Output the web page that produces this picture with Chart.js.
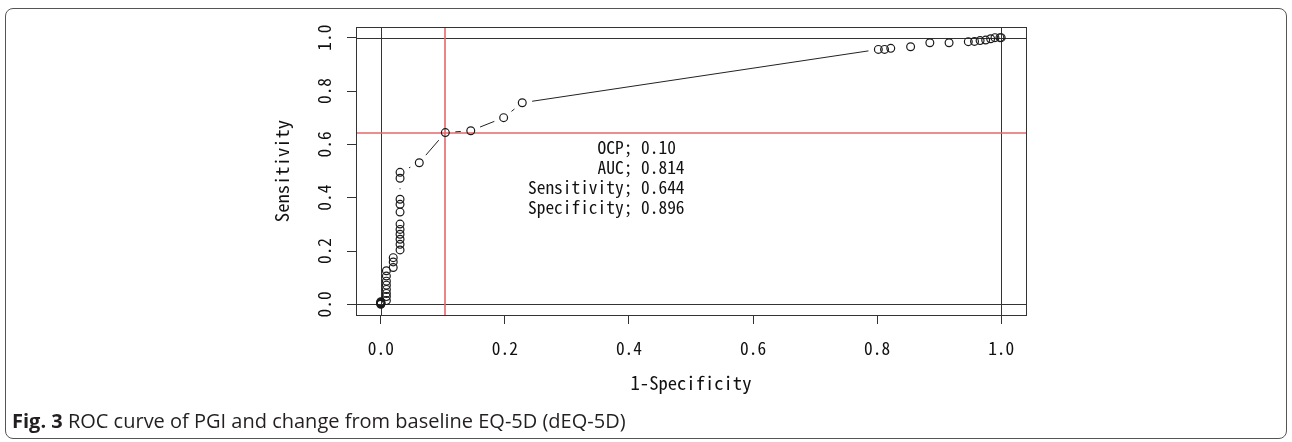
<!DOCTYPE html>
<html>
<head>
<meta charset="utf-8">
<script src="https://cdn.jsdelivr.net/npm/chart.js@4.4.0/dist/chart.umd.min.js"></script>
<style>
  html, body { margin: 0; padding: 0; background: #fff; }
  #wrap { position: relative; width: 1292px; height: 442px; overflow: hidden; background: #fff; }
  #roc { position: absolute; left: 0; top: 0; }
  #frame { position: absolute; left: 5px; top: 8px; width: 1282px; height: 431px; border: 1px solid #555; border-radius: 8px; box-sizing: border-box; }
  #caption { position: absolute; left: 12px; top: 409px; font-family: 'Open Sans', sans-serif; font-size: 20px; line-height: 24px; color: #231f20; white-space: nowrap; }
</style>
</head>
<body>
<div id="wrap">
  <canvas id="roc" width="1292" height="442"></canvas>
  <div id="frame"></div>
  <div id="caption"><b>Fig. 3</b> ROC curve of PGI and change from baseline EQ-5D (dEQ-5D)</div>
</div>
<script>
// ROC points (1-specificity, sensitivity)
const fpr = [0, 0, 0, 0, 0, 0,
  0.009, 0.009, 0.009, 0.009, 0.009, 0.009, 0.009, 0.009,
  0.020, 0.020, 0.020,
  0.031, 0.031, 0.031, 0.031, 0.031, 0.031, 0.031, 0.031, 0.031, 0.031, 0.031,
  0.062, 0.104, 0.145, 0.198, 0.228,
  0.802, 0.812, 0.822, 0.854, 0.885, 0.916, 0.947, 0.957, 0.966, 0.975, 0.983, 0.990, 0.998, 1.0];
const sens = [0, 0.002, 0.004, 0.006, 0.008, 0.010,
  0.014, 0.029, 0.041, 0.056, 0.072, 0.087, 0.106, 0.126,
  0.138, 0.159, 0.175,
  0.204, 0.225, 0.244, 0.263, 0.281, 0.301, 0.346, 0.375, 0.394, 0.473, 0.495,
  0.531, 0.644, 0.651, 0.700, 0.756,
  0.956, 0.956, 0.960, 0.966, 0.981, 0.981, 0.985, 0.986, 0.989, 0.991, 0.996, 1.0, 1.0, 1.0];

const xTicks = [0, 0.2, 0.4, 0.6, 0.8, 1.0];
const yTicks = [0, 0.2, 0.4, 0.6, 0.8, 1.0];
const refLines = [0, 1];
const cutFpr = 0.104;     // 1 - specificity at the optimal cut point
const cutSens = 0.644;
const statLines = [
  '        OCP; 0.10',
  '        AUC; 0.814',
  'Sensitivity; 0.644',
  'Specificity; 0.896'
];

// pick a size so the mono font has ~8.7px per character
const monoFamily = "'Noto Sans Mono CJK KR', 'DejaVu Sans Mono', monospace";
const probe = document.createElement('canvas').getContext('2d');
probe.font = "100px " + monoFamily;
const emRatio = probe.measureText('0000000000').width / 1000;
const tickSize = 8.7 / emRatio;
const titleSize = 9.3 / emRatio;

const monoFont = { family: monoFamily, size: tickSize };

// segments between points with a gap around each marker, like R type="b"
const gapLines = {
  id: 'gapLines',
  beforeDatasetsDraw(chart) {
    const { ctx, chartArea: a, scales: { x, y } } = chart;
    ctx.save();
    ctx.beginPath();
    ctx.rect(a.left, a.top, a.right - a.left, a.bottom - a.top);
    ctx.clip();
    ctx.lineWidth = 1;
    // reference lines at 0 and 1
    ctx.strokeStyle = '#333333';
    refLines.forEach(v => {
      const px = Math.round(x.getPixelForValue(v)) + 0.5;
      const py = Math.round(y.getPixelForValue(v)) + 0.5;
      ctx.beginPath(); ctx.moveTo(px, a.top); ctx.lineTo(px, a.bottom); ctx.stroke();
      ctx.beginPath(); ctx.moveTo(a.left, py); ctx.lineTo(a.right, py); ctx.stroke();
    });
    // cut point lines
    ctx.strokeStyle = '#e4676a';
    ctx.lineWidth = 1.6;
    const cx = Math.round(x.getPixelForValue(cutFpr));
    const cy = Math.round(y.getPixelForValue(cutSens));
    ctx.beginPath(); ctx.moveTo(cx, a.top); ctx.lineTo(cx, a.bottom); ctx.stroke();
    ctx.beginPath(); ctx.moveTo(a.left, cy); ctx.lineTo(a.right, cy); ctx.stroke();

    // curve
    ctx.strokeStyle = '#222222';
    ctx.lineWidth = 1;
    const gap = 10;
    for (let i = 1; i < fpr.length; i++) {
      const x0 = x.getPixelForValue(fpr[i - 1]), y0 = y.getPixelForValue(sens[i - 1]);
      const x1 = x.getPixelForValue(fpr[i]), y1 = y.getPixelForValue(sens[i]);
      const d = Math.hypot(x1 - x0, y1 - y0);
      if (d <= 2 * gap) continue;
      const ux = (x1 - x0) / d, uy = (y1 - y0) / d;
      ctx.beginPath();
      ctx.moveTo(x0 + ux * gap, y0 + uy * gap);
      ctx.lineTo(x1 - ux * gap, y1 - uy * gap);
      ctx.stroke();
    }
    ctx.restore();
  },
  afterDraw(chart) {
    const { ctx, chartArea: a } = chart;
    ctx.save();
    // plot box
    ctx.strokeStyle = '#333333';
    ctx.lineWidth = 1;
    ctx.strokeRect(Math.round(a.left) + 0.5, Math.round(a.top) + 0.5, Math.round(a.right - a.left), Math.round(a.bottom - a.top));

    ctx.fillStyle = '#111111';
    // axis titles
    ctx.font = titleSize + 'px ' + monoFamily;
    ctx.textAlign = 'center';
    ctx.textBaseline = 'middle';
    ctx.fillText('1-Specificity', (a.left + a.right) / 2, 383);
    ctx.translate(282, (a.top + a.bottom) / 2);
    ctx.rotate(-Math.PI / 2);
    ctx.fillText('Sensitivity', 0, 0);
    ctx.setTransform(1, 0, 0, 1, 0, 0);

    // stats text
    ctx.font = tickSize + 'px ' + monoFamily;
    ctx.textAlign = 'left';
    statLines.forEach((s, i) => {
      ctx.fillText(s, 528, 147 + i * 20);
    });
    ctx.restore();
  }
};

new Chart(document.getElementById('roc'), {
  type: 'scatter',
  data: {
    datasets: [{
      data: fpr.map((v, i) => ({ x: v, y: sens[i] })),
      pointStyle: 'circle',
      pointRadius: 3.9,
      borderWidth: 1.2,
      borderColor: '#1a1a1a',
      backgroundColor: 'rgba(0,0,0,0)',
      showLine: false
    }]
  },
  options: {
    responsive: false,
    animation: false,
    layout: { padding: { left: 0, top: 27, right: 266, bottom: 0 } },
    plugins: { legend: { display: false }, tooltip: { enabled: false } },
    scales: {
      x: {
        type: 'linear',
        min: -0.04,
        max: 1.04,
        afterBuildTicks: s => { s.ticks = xTicks.map(v => ({ value: v })); },
        afterFit: s => { s.height = 127; },
        ticks: { callback: v => v.toFixed(1), font: monoFont, color: '#111111', padding: 14, autoSkip: false, maxRotation: 0 },
        grid: { drawOnChartArea: false, drawTicks: true, tickLength: 9, color: '#333333' },
        border: { display: false }
      },
      y: {
        type: 'linear',
        min: -0.04,
        max: 1.04,
        afterBuildTicks: s => { s.ticks = yTicks.map(v => ({ value: v })); },
        afterFit: s => { s.width = 356; },
        ticks: { callback: v => v.toFixed(1), font: monoFont, color: '#111111', padding: 10, minRotation: 90, maxRotation: 90, crossAlign: 'center', autoSkip: false },
        grid: { drawOnChartArea: false, drawTicks: true, tickLength: 9, color: '#333333' },
        border: { display: false }
      }
    }
  },
  plugins: [gapLines]
});
</script>
</body>
</html>
